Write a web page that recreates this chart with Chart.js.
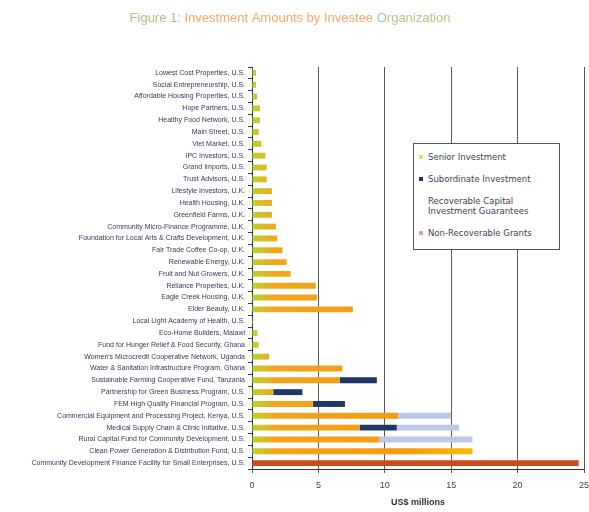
<!DOCTYPE html>
<html>
<head>
<meta charset="utf-8">
<script src="https://cdn.jsdelivr.net/npm/chart.js@4/dist/chart.umd.min.js"></script>
<style>
  html, body { margin: 0; padding: 0; background: #ffffff; }
  #wrap { position: relative; width: 589px; height: 512px; }
  #legend {
    position: absolute; left: 413px; top: 143px; width: 147px; height: 107px;
    border: 1px solid #555; background: #fff; box-sizing: border-box;
    font-family: "DejaVu Sans", Verdana, sans-serif; font-size: 8.5px; color: #3a3f55;
    padding: 8px 4px 0 5px;
  }
  #legend .item { display: flex; align-items: flex-start; margin-bottom: 12px; line-height: 10px; }
  #legend .sw { width: 4px; height: 4px; margin: 3px 5px 0 0; flex: 0 0 auto; }
</style>
</head>
<body>
<div id="wrap">
  <canvas id="chart" width="589" height="512"></canvas>
  <div id="legend"></div>
</div>
<script>
// Investee organizations, top to bottom
const categories = [
  "Lowest Cost Properties, U.S.",
  "Social Entrepreneurship, U.S.",
  "Affordable Housing Properties, U.S.",
  "Hope Partners, U.S.",
  "Healthy Food Network, U.S.",
  "Main Street, U.S.",
  "Viet Market, U.S.",
  "IPC Investors, U.S.",
  "Grand Imports, U.S.",
  "Trust Advisors, U.S.",
  "Lifestyle Investors, U.K.",
  "Health Housing, U.K.",
  "Greenfield Farms, U.K.",
  "Community Micro-Finance Programme, U.K.",
  "Foundation for Local Arts & Crafts Development, U.K.",
  "Fair Trade Coffee Co-op, U.K.",
  "Renewable Energy, U.K.",
  "Fruit and Nut Growers, U.K.",
  "Reliance Properties, U.K.",
  "Eagle Creek Housing, U.K.",
  "Elder Beauty, U.K.",
  "Local Light Academy of Health, U.S.",
  "Eco-Home Builders, Malawi",
  "Fund for Hunger Relief & Food Security, Ghana",
  "Women's Microcredit Cooperative Network, Uganda",
  "Water & Sanitation Infrastructure Program, Ghana",
  "Sustainable Farming Cooperative Fund, Tanzania",
  "Partnership for Green Business Program, U.S.",
  "FEM High Quality Financial Program, U.S.",
  "Commercial Equipment and Processing Project, Kenya, U.S.",
  "Medical Supply Chain & Clinic Initiative, U.S.",
  "Rural Capital Fund for Community Development, U.S.",
  "Clean Power Generation & Distribution Fund, U.S.",
  "Community Development Finance Facility for Small Enterprises, U.S."
];

// US$ millions by investment type
const seniorInvestment = [
  0.3, 0.3, 0.4, 0.6, 0.6, 0.5, 0.7, 1.0, 1.1, 1.1,
  1.5, 1.5, 1.5, 1.8, 1.9, 2.3, 2.6, 2.9, 4.8, 4.9,
  7.6, 0.1, 0.4, 0.5, 1.3, 6.8, 6.6, 1.6, 4.6, 11.0,
  8.1, 9.6, 16.6, 0
];
const subordinateInvestment = [
  0, 0, 0, 0, 0, 0, 0, 0, 0, 0,
  0, 0, 0, 0, 0, 0, 0, 0, 0, 0,
  0, 0, 0, 0, 0, 0, 2.8, 2.2, 2.4, 0,
  2.8, 0, 0, 0
];
const recoverableCapital = [
  0, 0, 0, 0, 0, 0, 0, 0, 0, 0,
  0, 0, 0, 0, 0, 0, 0, 0, 0, 0,
  0, 0, 0, 0, 0, 0, 0, 0, 0, 4.0,
  4.7, 7.0, 0, 0
];
const nonRecoverableGrants = [
  0, 0, 0, 0, 0, 0, 0, 0, 0, 0,
  0, 0, 0, 0, 0, 0, 0, 0, 0, 0,
  0, 0, 0, 0, 0, 0, 0, 0, 0, 0,
  0, 0, 0, 24.6
];
const xTicks = [0, 5, 10, 15, 20, 25];

const seriesNames = ["Senior Investment", "Subordinate Investment",
  "Recoverable Capital Investment Guarantees", "Non-Recoverable Grants"];
const seriesColors = ["#f3a21a", "#1f3766", "#bcc8ea", "#cc4a1e"];

function seniorFill(ctx) {
  const area = ctx.chart.chartArea;
  if (!area) return seriesColors[0];
  const g = ctx.chart.ctx.createLinearGradient(area.left, 0, area.right, 0);
  g.addColorStop(0, "#bcd232");
  g.addColorStop(0.07, "#f2a51c");
  g.addColorStop(0.45, "#f39b12");
  g.addColorStop(0.7, "#f6c200");
  g.addColorStop(1, "#f6c200");
  return g;
}

// Multi-coloured heading drawn above the plot
const headingPlugin = {
  id: "heading",
  afterDraw(chart) {
    const c = chart.ctx;
    const parts = [
      ["Figure 1:", "#a9c47f"],
      [" Investment Amounts by Investee ", "#f0a868"],
      ["Organization", "#b2c982"]
    ];
    c.save();
    c.font = "13px 'Liberation Sans', Arial, sans-serif";
    c.textBaseline = "middle";
    const total = parts.reduce((s, p) => s + c.measureText(p[0]).width, 0);
    let x = 290 - total / 2;
    for (const [t, col] of parts) {
      c.fillStyle = col;
      c.fillText(t, x, 18);
      x += c.measureText(t).width;
    }
    c.restore();
  }
};

const chart = new Chart(document.getElementById("chart"), {
  type: "bar",
  data: {
    labels: categories,
    datasets: [
      { label: seriesNames[0], data: seniorInvestment, backgroundColor: seniorFill },
      { label: seriesNames[1], data: subordinateInvestment, backgroundColor: seriesColors[1] },
      { label: seriesNames[2], data: recoverableCapital, backgroundColor: seriesColors[2] },
      { label: seriesNames[3], data: nonRecoverableGrants, backgroundColor: seriesColors[3] }
    ].map(d => Object.assign(d, { barPercentage: 0.5, categoryPercentage: 1, borderWidth: 0 }))
  },
  options: {
    indexAxis: "y",
    responsive: false,
    animation: false,
    layout: { padding: { top: 67, right: 0, left: 0, bottom: 0 } },
    plugins: { legend: { display: false }, tooltip: { enabled: false } },
    scales: {
      x: {
        stacked: true,
        min: 0, max: 25,
        afterBuildTicks: s => { s.ticks = xTicks.map(v => ({ value: v })); },
        afterFit: s => { s.height = 43; s.paddingRight = 5; },
        grid: { color: "#5a5a5a", lineWidth: 1, drawTicks: true, tickLength: 4 },
        border: { color: "#333", width: 1 },
        ticks: { color: "#444", font: { family: "'Liberation Sans', Arial, sans-serif", size: 9 }, padding: 7 },
        title: { display: true, text: "US$ millions", color: "#333", padding: { top: 5 },
                 font: { family: "'Liberation Sans', Arial, sans-serif", size: 9, weight: "bold" } }
      },
      y: {
        stacked: true,
        afterFit: s => { s.width = 252; },
        grid: { drawOnChartArea: false, color: "#444", tickLength: 4 },
        border: { color: "#333", width: 1 },
        ticks: { autoSkip: false, color: "#343a58", padding: 3,
                 font: { family: "'Liberation Sans', Arial, sans-serif", size: 7 } }
      }
    }
  },
  plugins: [headingPlugin]
});

// Legend box placed inside the plot
const legendSwatches = ["#f2d36a", "#1f3766", "transparent", "#e7a0a0"];
document.getElementById("legend").innerHTML = seriesNames.map((n, i) =>
  `<div class="item"><span class="sw" style="background:${legendSwatches[i]}"></span><span>${
    i === 2 ? "Recoverable Capital<br>Investment Guarantees" : n}</span></div>`).join("");
</script>
</body>
</html>
